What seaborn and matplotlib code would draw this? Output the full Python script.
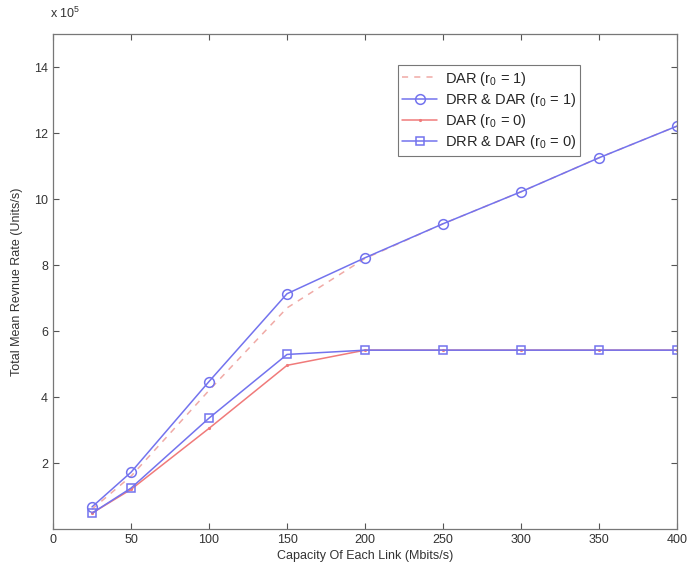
import matplotlib
matplotlib.use("Agg")
import matplotlib.pyplot as plt
import seaborn as sns
import pandas as pd

# Link capacity (Mbits/s) and total mean revenue rate (x 10^5 units/s)
capacity = [25, 50, 100, 150, 200, 250, 300, 350, 400]
dar_r1 = [0.60, 1.60, 4.20, 6.70, 8.20, 9.25, 10.22, 11.25, 12.21]
drr_dar_r1 = [0.67, 1.72, 4.47, 7.13, 8.22, 9.25, 10.22, 11.25, 12.21]
dar_r0 = [0.48, 1.20, 3.05, 4.96, 5.42, 5.42, 5.42, 5.42, 5.42]
drr_dar_r0 = [0.48, 1.24, 3.36, 5.29, 5.42, 5.42, 5.42, 5.42, 5.42]

labels = [r"DAR (r$_0$ = 1)", r"DRR & DAR (r$_0$ = 1)",
          r"DAR (r$_0$ = 0)", r"DRR & DAR (r$_0$ = 0)"]
x_ticks = [0, 50, 100, 150, 200, 250, 300, 350, 400]
y_ticks = [2, 4, 6, 8, 10, 12, 14]

sns.set_style("white")
plt.rcParams["font.family"] = ["Liberation Sans", "DejaVu Sans"]
plt.rcParams["mathtext.fontset"] = "custom"
plt.rcParams["mathtext.rm"] = "Liberation Sans"

fig = plt.figure(figsize=(6.93, 5.67), dpi=100)
ax = fig.add_axes([0.0765, 0.067, 0.9005, 0.873])

blue = "#7373ee"
red = "#f07a7a"
pink = "#f0aaa6"

df = pd.DataFrame({"cap": capacity})
sns.lineplot(x=df["cap"], y=dar_r1, ax=ax, color=pink, linestyle=(0, (4, 4)),
             linewidth=1.1, label=labels[0])
sns.lineplot(x=df["cap"], y=drr_dar_r1, ax=ax, color=blue, linewidth=1.1,
             marker="o", markersize=7, markerfacecolor="none",
             markeredgecolor=blue, markeredgewidth=1.1, label=labels[1])
sns.lineplot(x=df["cap"], y=dar_r0, ax=ax, color=red, linewidth=1.1,
             marker=".", markersize=3, markeredgecolor=red, label=labels[2])
sns.lineplot(x=df["cap"], y=drr_dar_r0, ax=ax, color=blue, linewidth=1.1,
             marker="s", markersize=6, markerfacecolor="none",
             markeredgecolor=blue, markeredgewidth=1.1, label=labels[3])

ax.set_xlim(0, 400)
ax.set_ylim(0, 15)
ax.set_xticks(x_ticks)
ax.set_yticks(y_ticks)
ax.tick_params(direction="in", length=4, width=0.8, colors="#555555",
               labelcolor="#333333", labelsize=9, top=True, right=True,
               bottom=True, left=True)
for s in ax.spines.values():
    s.set_color("#777777")
    s.set_linewidth(0.9)

ax.set_xlabel("Capacity Of Each Link (Mbits/s)", fontsize=9, color="#333333",
              labelpad=3)
ax.set_ylabel("Total Mean Revnue Rate (Units/s)", fontsize=9, color="#333333",
              labelpad=8)
fig.text(0.072, 0.963, r"x 10$^5$", fontsize=9, color="#333333",
         ha="left", va="bottom")

leg = ax.legend(loc="upper right", bbox_to_anchor=(0.845, 0.937),
                borderaxespad=0, fontsize=10.5, frameon=True, fancybox=False,
                framealpha=1, edgecolor="#777777", handlelength=2.4,
                borderpad=0.3, labelspacing=0.22, handletextpad=0.5)
leg.get_frame().set_linewidth(0.8)

fig.savefig("out.png", dpi=100)
